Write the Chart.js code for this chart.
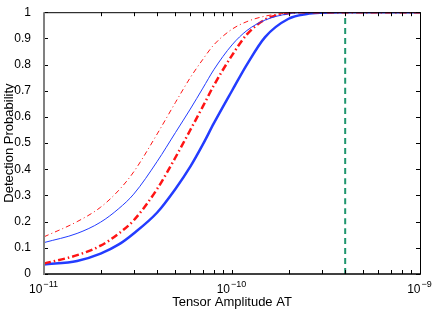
<!DOCTYPE html>
<html>
<head>
<meta charset="utf-8">
<script src="https://cdn.jsdelivr.net/npm/chart.js@4"></script>
<style>
  body { margin: 0; background: #fff; }
  canvas { display: block; }
</style>
</head>
<body>
<canvas id="chart" width="436" height="310"></canvas>
<script>
// amplitude grid shared by all curves
const amplitude = [1e-11, 1.5e-11, 2e-11, 2.5e-11, 3e-11, 4e-11, 5e-11, 6e-11, 7e-11, 8e-11,
  1e-10, 1.2e-10, 1.5e-10, 2e-10, 2.5e-10, 3e-10, 4e-10, 6e-10, 1e-9];

// detection probability
const thickBlue = [0.036, 0.05, 0.078, 0.113, 0.155, 0.235, 0.325, 0.41, 0.495, 0.575,
  0.7, 0.8, 0.905, 0.975, 0.993, 0.998, 1, 1, 1];
const thickRed = [0.04, 0.072, 0.108, 0.155, 0.205, 0.325, 0.445, 0.55, 0.64, 0.72,
  0.835, 0.915, 0.972, 0.996, 1, 1, 1, 1, 1];
const thinBlue = [0.12, 0.155, 0.198, 0.25, 0.305, 0.43, 0.54, 0.63, 0.71, 0.78,
  0.875, 0.93, 0.97, 0.994, 0.999, 1, 1, 1, 1];
const thinRed = [0.142, 0.2, 0.255, 0.32, 0.39, 0.535, 0.655, 0.75, 0.82, 0.875,
  0.935, 0.964, 0.985, 0.997, 1, 1, 1, 1, 1];

const thresholdX = [4e-10, 4e-10];
const thresholdY = [0, 1];

const xTicks = [1e-11, 2e-11, 3e-11, 4e-11, 5e-11, 6e-11, 7e-11, 8e-11, 9e-11,
  1e-10, 2e-10, 3e-10, 4e-10, 5e-10, 6e-10, 7e-10, 8e-10, 9e-10, 1e-9];
const xDecades = [1e-11, 1e-10, 1e-9];
const xExponents = ['\u221211', '\u221210', '\u22129'];

const pts = (xs, ys) => xs.map((x, i) => ({ x: x, y: ys[i] }));

const BLUE = 'rgb(35,60,255)';
const RED = 'rgb(255,20,20)';
const FONT = 'Liberation Sans, Arial, sans-serif';

// matlab-like box with inward ticks, plus 10^n labels
const boxPlugin = {
  id: 'box',
  afterDraw(chart) {
    const { ctx, chartArea: a, scales } = chart;
    const len = 4;
    ctx.save();
    ctx.strokeStyle = '#000';
    ctx.lineWidth = 1;
    ctx.beginPath();
    xTicks.forEach(v => {
      const px = Math.round(scales.x.getPixelForValue(v)) + 0.5;
      ctx.moveTo(px, a.bottom); ctx.lineTo(px, a.bottom - len);
      ctx.moveTo(px, a.top); ctx.lineTo(px, a.top + len);
    });
    for (let i = 0; i <= 10; i++) {
      const py = Math.round(scales.y.getPixelForValue(i / 10)) + 0.5;
      ctx.moveTo(a.left, py); ctx.lineTo(a.left + len, py);
      ctx.moveTo(a.right, py); ctx.lineTo(a.right - len, py);
    }
    ctx.stroke();
    ctx.beginPath();
    ctx.moveTo(a.left, a.top + 0.5); ctx.lineTo(a.right + 0.5, a.top + 0.5);
    ctx.lineTo(a.right + 0.5, a.bottom); ctx.stroke();
    ctx.lineWidth = 1.5;
    ctx.beginPath();
    ctx.moveTo(a.left, a.bottom); ctx.lineTo(a.right + 1, a.bottom); ctx.stroke();
    ctx.strokeStyle = '#808080';
    ctx.lineWidth = 2;
    ctx.beginPath();
    ctx.moveTo(a.left, a.top); ctx.lineTo(a.left, a.bottom + 1); ctx.stroke();

    // decade labels
    ctx.fillStyle = '#000';
    ctx.textBaseline = 'alphabetic';
    ctx.textAlign = 'left';
    xDecades.forEach((v, i) => {
      const px = scales.x.getPixelForValue(v);
      ctx.font = '12px ' + FONT;
      const wBase = ctx.measureText('10').width;
      ctx.font = '9px ' + FONT;
      const wExp = ctx.measureText(xExponents[i]).width;
      const x0 = px - (wBase + wExp) / 2 - 1;
      ctx.font = '12px ' + FONT;
      ctx.fillText('10', x0, a.bottom + 19);
      ctx.font = '9px ' + FONT;
      ctx.fillText(xExponents[i], x0 + wBase + 1, a.bottom + 13);
    });
    ctx.restore();
  }
};

new Chart('chart', {
  type: 'scatter',
  data: {
    datasets: [
      { data: pts(amplitude, thinRed), borderColor: RED, borderWidth: 1, borderDash: [5, 3, 1, 3] },
      { data: pts(amplitude, thinBlue), borderColor: BLUE, borderWidth: 1 },
      { data: pts(amplitude, thickRed), borderColor: RED, borderWidth: 2.5, borderDash: [7, 3, 1.5, 3] },
      { data: pts(amplitude, thickBlue), borderColor: BLUE, borderWidth: 2.5 },
      { data: pts(thresholdX, thresholdY), borderColor: 'rgb(30,150,110)', borderWidth: 2, borderDash: [6, 4] }
    ].map(d => Object.assign({ showLine: true, pointRadius: 0, cubicInterpolationMode: 'monotone', fill: false }, d))
  },
  options: {
    responsive: false,
    animation: false,
    devicePixelRatio: 1,
    layout: { padding: { top: 11, right: 16, left: 0, bottom: 0 } },
    plugins: { legend: { display: false }, tooltip: { enabled: false } },
    scales: {
      x: {
        type: 'logarithmic',
        min: 1e-11,
        max: 1e-9,
        afterBuildTicks: s => { s.ticks = xTicks.map(v => ({ value: v })); },
        afterFit: s => { s.height = 36; },
        grid: { display: false },
        border: { display: false },
        ticks: { autoSkip: false, maxRotation: 0, callback: () => '' },
        title: {
          display: true, text: 'Tensor Amplitude AT', color: '#000', padding: { top: 0, bottom: 0 },
          font: { family: FONT, size: 13 }
        }
      },
      y: {
        min: 0,
        max: 1,
        afterFit: s => { s.width = 44; },
        grid: { display: false },
        border: { display: false },
        ticks: {
          stepSize: 0.1, padding: 5,
          color: '#000', font: { family: FONT, size: 12 },
          callback: v => String(+v.toFixed(1))
        },
        title: {
          display: true, text: 'Detection Probability', color: '#000', padding: { top: 2, bottom: 0 },
          font: { family: FONT, size: 13 }
        }
      }
    }
  },
  plugins: [boxPlugin]
});
</script>
</body>
</html>
